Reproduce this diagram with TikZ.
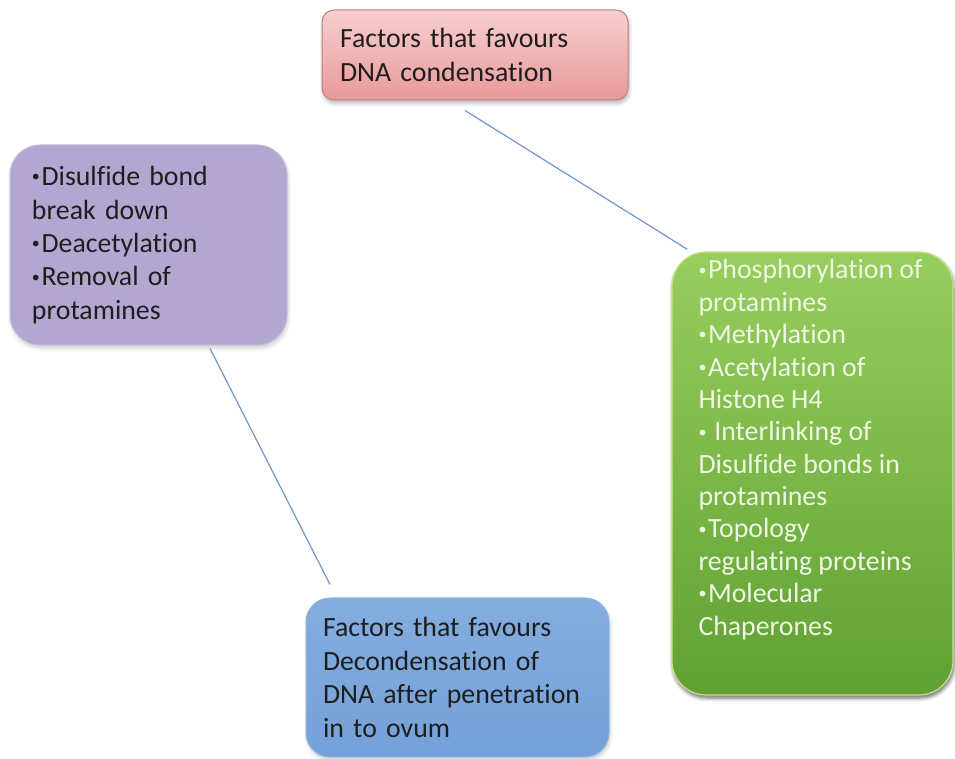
\documentclass[tikz,border=0pt]{standalone}
\usepackage{fontspec}
\setmainfont{Carlito}[Ligatures={NoCommon,NoRare}]
\usetikzlibrary{shadows.blur}
\definecolor{pinktop}{HTML}{F8CFCF}
\definecolor{pinkbot}{HTML}{E8999A}
\definecolor{pinkedge}{HTML}{C47E80}
\definecolor{lilac}{HTML}{B3A7D1}
\definecolor{lilacedge}{HTML}{C4BADD}
\definecolor{leaftop}{HTML}{98CE5E}
\definecolor{leafbot}{HTML}{60A033}
\definecolor{leafedge}{HTML}{CBDF8C}
\definecolor{leaftext}{HTML}{EEF7E4}
\definecolor{skytop}{HTML}{84ADDF}
\definecolor{skybot}{HTML}{74A1D9}
\definecolor{skyedge}{HTML}{8FB3E2}
\definecolor{ink}{HTML}{1E1E1E}
\definecolor{link}{HTML}{7095CC}
\newcommand{\bul}{\raisebox{1.9pt}{\fontsize{8}{8}\selectfont •}\kern0.8pt}

\tikzset{
  factorbox/.style={rounded corners=#1, align=left, inner sep=0pt, text=ink,
    font=\fontsize{13.9}{16.7}\selectfont},
  softshadow/.style={blur shadow={shadow xshift=0.5pt, shadow yshift=-1.5pt,
    shadow blur steps=6, shadow opacity=#1}},
  link/.style={draw=link, line width=0.6pt}
}

\begin{document}
\begin{tikzpicture}[x=0.5pt, y=-0.5pt]
  \useasboundingbox (0,0) rectangle (955,759);
  % heading: condensation
  \node[factorbox=6pt, top color=pinktop, bottom color=pinkbot, draw=pinkedge,
        line width=0.5pt, softshadow=30, text width=135pt,
        minimum width=153pt, minimum height=45pt] (cond) at (475,55)
        {Factors that favours\\DNA condensation};
  % decondensation list
  \node[factorbox=15pt, fill=lilac, draw=lilacedge, line width=0.5pt,
        softshadow=20, text width=116.5pt,
        minimum width=138.5pt, minimum height=100pt] (decondlist) at (148.5,245)
        {\bul Disulfide bond\\break down\\\bul Deacetylation\\\bul Removal of\\protamines};
  % condensation list
  \node[factorbox=17pt, top color=leaftop, bottom color=leafbot, draw=leafedge,
        line width=0.6pt, softshadow=60, text=leaftext,
        minimum width=140.5pt, minimum height=221.5pt] (condlist) at (812.5,473.5)
        {\parbox[c][214pt][t]{114pt}{\raggedright\baselineskip=16.2pt
          \bul Phosphorylation of\\protamines\\\bul Methylation\\\bul Acetylation of\\Histone H4\\
          \bul\ Interlinking of\\Disulfide bonds in\\protamines\\\bul Topology\\
          regulating proteins\\\bul Molecular\\Chaperones}};
  % heading: decondensation
  \node[factorbox=12pt, top color=skytop, bottom color=skybot, draw=skyedge,
        line width=0.5pt, softshadow=20, text width=134.5pt,
        minimum width=151.5pt, minimum height=79.5pt] (decond) at (457.5,677.5)
        {Factors that favours\\Decondensation of\\DNA after penetration\\in to ovum};
  % connectors
  \draw[link] ([xshift=-5pt, yshift=-5pt]cond.south) -- ([xshift=8pt, yshift=1pt]condlist.north west);
  \draw[link] ([xshift=30.75pt, yshift=-1.5pt]decondlist.south) -- ([xshift=-63.75pt, yshift=6.5pt]decond.north);
\end{tikzpicture}
\end{document}
